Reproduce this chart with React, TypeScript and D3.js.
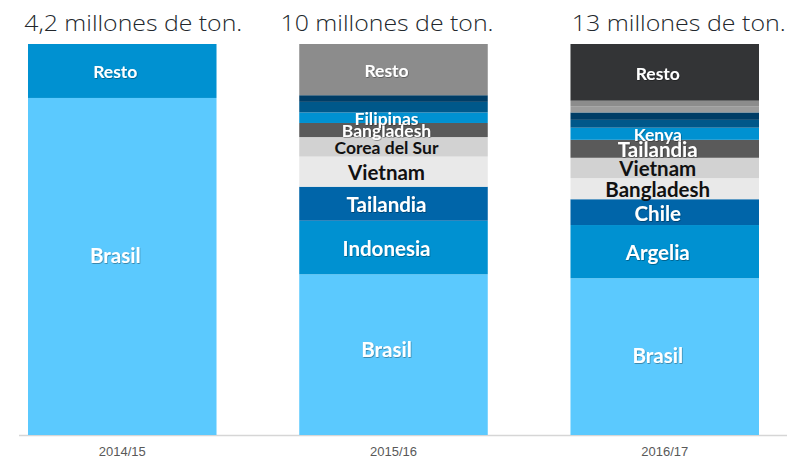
import React from "react";
import * as d3 from "d3";

// ---- data ----
const years = ["2014/15", "2015/16", "2016/17"];
const titles = ["4,2 millones de ton.", "10 millones de ton.", "13 millones de ton."];

const countries1415 = ["Brasil", "Resto"];
const shares1415 = [86.2, 13.8];

const countries1516 = ["Brasil", "Indonesia", "Tailandia", "Vietnam", "Corea del Sur", "Bangladesh", "Filipinas", "", "", "Resto"];
const shares1516 = [41.1, 13.7, 8.7, 7.7, 5.0, 3.6, 2.7, 2.7, 1.7, 13.1];

const countries1617 = ["Brasil", "Argelia", "Chile", "Bangladesh", "Vietnam", "Tailandia", "Kenya", "", "", "", "", "Resto"];
const shares1617 = [40.1, 13.6, 6.6, 5.4, 5.2, 4.6, 3.1, 2.0, 1.9, 1.6, 1.4, 14.5];

// ---- styles ----
const C = {
  light: "#5bc9fe",
  mid: "#0091d1",
  deep: "#0065a9",
  pale: "#e9e9e9",
  silver: "#d2d2d2",
  slate: "#5a5a5a",
  teal: "#00588a",
  navy: "#003d66",
  grey: "#8c8c8c",
  grey2: "#9c9c9c",
  dark: "#333436",
};
const colors1415 = [C.light, C.mid];
const colors1516 = [C.light, C.mid, C.deep, C.pale, C.silver, C.slate, C.mid, C.teal, C.navy, C.grey];
const colors1617 = [C.light, C.mid, C.deep, C.pale, C.silver, C.slate, C.mid, C.teal, C.navy, C.grey2, C.grey, C.dark];
const smallLabels = [
  ["Resto"],
  ["Resto", "Filipinas", "Bangladesh", "Corea del Sur"],
  ["Resto", "Kenya"],
];
const darkText = new Set([C.pale, C.silver]);
const titleDx = [11, -6.5, 14];
const titleLen = [218, 213, 214];
const baseLabelDy = [-12, -6, -2];

const W = 787;
const H = 458;

export default function App() {
  const bars = [
    { names: countries1415, values: shares1415, colors: colors1415 },
    { names: countries1516, values: shares1516, colors: colors1516 },
    { names: countries1617, values: shares1617, colors: colors1617 },
  ];

  const x = d3.scaleBand<string>().domain(years).range([28, 759]).paddingInner(0.305).paddingOuter(0);
  const y = d3.scaleLinear().domain([0, 100]).range([435, 44]);
  const bw = x.bandwidth();

  return (
    <svg width={W} height={H} style={{ position: "absolute", left: 0, top: 0, background: "#fff" }}>
      <defs>
        <filter id="sh" x="-10%" y="-30%" width="120%" height="160%">
          <feDropShadow dx="0.6" dy="0.8" stdDeviation="0.7" floodColor="#000" floodOpacity="0.4" />
        </filter>
      </defs>
      {/* titles */}
      {years.map((yr, i) => (
        <text
          key={"t" + yr}
          x={(x(yr) as number) + bw / 2 + titleDx[i]}
          y={31}
          textAnchor="middle"
          fontFamily="Open Sans, Lato, sans-serif"
          fontWeight={300}
          fontSize={22}
          fill="#22272c"
          textLength={titleLen[i]}
          lengthAdjust="spacingAndGlyphs"
        >
          {titles[i]}
        </text>
      ))}
      {/* axis line */}
      <line x1={19} x2={W} y1={435.5} y2={435.5} stroke="#d6d6d6" strokeWidth={1.5} />
      {/* bars */}
      {bars.map((b, bi) => {
        const x0 = x(years[bi]) as number;
        const ends = Array.from(d3.cumsum(b.values));
        return (
          <g key={"b" + bi}>
            {b.values.map((v, si) => {
              const start = si === 0 ? 0 : ends[si - 1];
              const end = ends[si];
              return (
                <rect
                  key={si}
                  x={x0}
                  width={bw}
                  y={y(end)}
                  height={y(start) - y(end)}
                  fill={b.colors[si]}
                />
              );
            })}
            {b.values.map((v, si) => {
              const name = b.names[si];
              if (!name) return null;
              const start = si === 0 ? 0 : ends[si - 1];
              const end = ends[si];
              const mid = (y(start) + y(end)) / 2 + (si === 0 ? baseLabelDy[bi] : 0);
              const fs = smallLabels[bi].includes(name) ? 17.5 : 20.5;
              const dark = darkText.has(b.colors[si]);
              return (
                <text
                  key={"l" + si}
                  x={x0 + bw / 2 - 7}
                  y={mid + fs * 0.36 + 1}
                  textAnchor="middle"
                  fontFamily="Lato, sans-serif"
                  fontWeight={700}
                  fontSize={fs}
                  fill={dark ? "#111" : "#fff"}
                  filter={dark ? undefined : "url(#sh)"}
                >
                  {name}
                </text>
              );
            })}
          </g>
        );
      })}
      {/* category labels */}
      {years.map((yr) => (
        <text
          key={"c" + yr}
          x={(x(yr) as number) + bw / 2}
          y={456}
          textAnchor="middle"
          fontFamily="Liberation Sans, Arial, sans-serif"
          fontSize={13}
          fill="#595959"
        >
          {yr}
        </text>
      ))}
    </svg>
  );
}
